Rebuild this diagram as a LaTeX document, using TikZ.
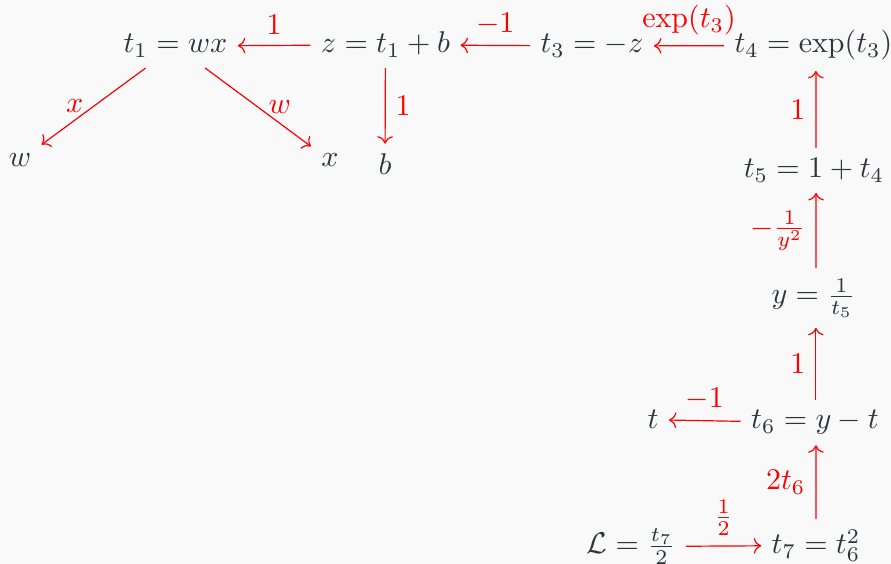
\documentclass[tikz,border=0pt]{standalone}
\usetikzlibrary{arrows.meta}
\definecolor{bgc}{HTML}{F9F9F9}
\definecolor{txt}{HTML}{2E3638}
\tikzset{
  term/.style={anchor=base, inner sep=3.3pt, text=txt, font=\normalsize},
  edge/.style={draw=red, line width=0.4pt, -{To}},
  lab/.style={text=red, inner sep=3.3pt}
}
\begin{document}
\begin{tikzpicture}[x=0.33333pt, y=-0.33333pt]
\fill[bgc] (0,0) rectangle (891,564);
\useasboundingbox (0,0) rectangle (891,564);
% nodes (positions in pixels, baseline)
\node[term] (t1) at (175.5,53) {$t_1 = wx$};
\node[term] (z)  at (385.5,53) {$z = t_1 + b$};
\node[term] (t3) at (592,53) {$t_3 = -z$};
\node[term] (t4) at (813.5,53) {$t_4 = \exp(t_3)$};
\node[term] (w)  at (20,167) {$w$};
\node[term] (x)  at (330,167) {$x$};
\node[term] (b)  at (385,175) {$b$};
\node[term] (t5) at (814,178) {$t_5 = 1 + t_4$};
\node[term] (y)  at (813.5,304) {$y = \frac{1}{t_5}$};
\node[term] (t6) at (815,429) {$t_6 = y - t$};
\node[term] (t)  at (653,429) {$t$};
\node[term] (L)  at (631,554) {$\mathcal{L} = \frac{t_7}{2}$};
\node[term] (t7) at (816,554) {$t_7 = t_6^2$};
% connectors
\draw[edge] (z) -- node[lab, above] {$1$} (t1);
\draw[edge] (t3) -- node[lab, above] {$-1$} (z);
\draw[edge] (t4) -- node[lab, above] {$\exp(t_3)$} (t3);
\draw[edge] (t1) -- node[lab, left] {$x$} (w);
\draw[edge] (t1) -- node[lab, right] {$w$} (x);
\draw[edge] (z) -- node[lab, right] {$1$} (b);
\draw[edge] ([xshift=0.7pt]t5.north) -- node[lab, left] {$1$} ([xshift=0.8pt]t4.south);
\draw[edge] ([xshift=0.8pt]y.north) -- node[lab, left] {$-\frac{1}{y^2}$} ([xshift=0.7pt]t5.south);
\draw[edge] ([xshift=0.3pt]t6.north) -- node[lab, left] {$1$} ([xshift=0.8pt]y.south);
\draw[edge] (t6) -- node[lab, above] {$-1$} (t);
\draw[edge] (t7.north) -- node[lab, left] {$2t_6$} ([xshift=0.3pt]t6.south);
\draw[edge] (L) -- node[lab, above] {$\frac{1}{2}$} (t7);
\end{tikzpicture}
\end{document}
